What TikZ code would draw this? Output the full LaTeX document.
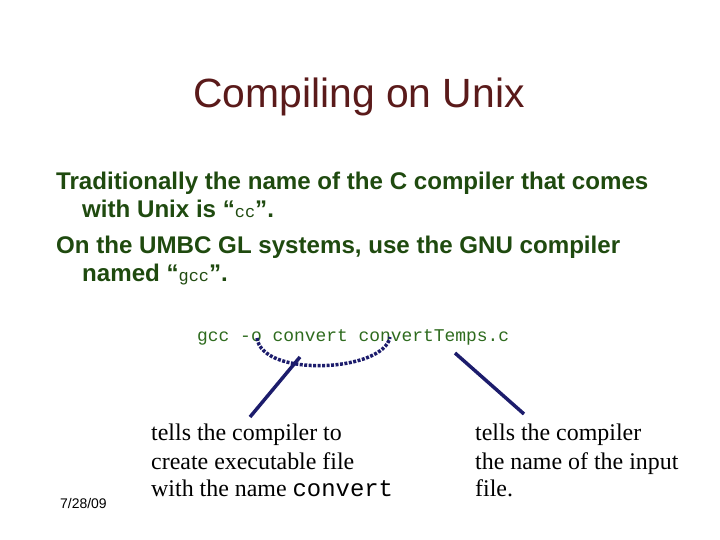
\documentclass[tikz,border=0pt]{standalone}
\usepackage{fontspec}
\setmainfont{Liberation Serif}
\setsansfont{Liberation Sans}
\setmonofont{Liberation Mono}
\definecolor{titlered}{HTML}{5A1A1A}
\definecolor{bodygreen}{HTML}{1F4A0F}
\definecolor{codegreen}{HTML}{2E6B1E}
\definecolor{navy}{HTML}{1C1C6C}
\tikzset{
  bodyline/.style={anchor=base west,inner sep=0pt,text=bodygreen,font=\sffamily\bfseries\fontsize{24.2}{28}\selectfont},
  note/.style={anchor=base west,inner sep=0pt,font=\rmfamily\fontsize{24}{28}\selectfont},
  pointer/.style={navy,line width=3.5pt},
}
\begin{document}
\begin{tikzpicture}[x=1bp,y=-1bp]
\useasboundingbox (0,0) rectangle (720,540);
% Title
\node[anchor=base,inner sep=0pt,text=titlered,font=\sffamily\fontsize{41}{46}\selectfont] (title) at (359,108) {Compiling on Unix};
% Body
\node[bodyline] (tradA) at (56,190) {Traditionally the name of the C compiler that comes};
\node[bodyline] (tradB) at (82,218) {with Unix is \textquotedblleft{\mdseries\ttfamily\fontsize{17}{20}\selectfont cc}\textquotedblright.};
\node[bodyline] (umbcA) at (56,254) {On the UMBC GL systems, use the GNU compiler};
\node[bodyline] (umbcB) at (82,282) {named \textquotedblleft{\mdseries\ttfamily\fontsize{17}{20}\selectfont gcc}\textquotedblright.};
% Command
\node[anchor=base west,inner sep=0pt,text=codegreen,font=\ttfamily\fontsize{18}{22}\selectfont] (cmd) at (197,341) {gcc -o convert convertTemps.c};
% Notes
\node[note] (noteA1) at (151,440) {tells the compiler to};
\node[note] (noteA2) at (151,469) {create executable file};
\node[note] (noteA3) at (151,496) {with the name {\ttfamily convert}};
\node[note] (noteB1) at (475,440) {tells the compiler};
\node[note] (noteB2) at (475,469) {the name of the input};
\node[note] (noteB3) at (475,496) {file.};
\node[anchor=base west,inner sep=0pt,font=\sffamily\fontsize{14}{16}\selectfont] (date) at (60,508) {7/28/09};
% Pointers
\coordinate (optO) at (257,338);
\coordinate (optName) at (390,337);
\coordinate (midA) at (300,357);
\coordinate (footA) at (250,417);
\coordinate (srcC) at (455,353);
\coordinate (footB) at (524,414);
\draw[navy,line width=3.5pt,dash pattern=on 3pt off 1.5pt]
  (optO) .. controls (262,378) and (384,372) .. (optName);
\draw[pointer] (midA) -- (footA);
\draw[pointer] (srcC) -- (footB);
\end{tikzpicture}
\end{document}
